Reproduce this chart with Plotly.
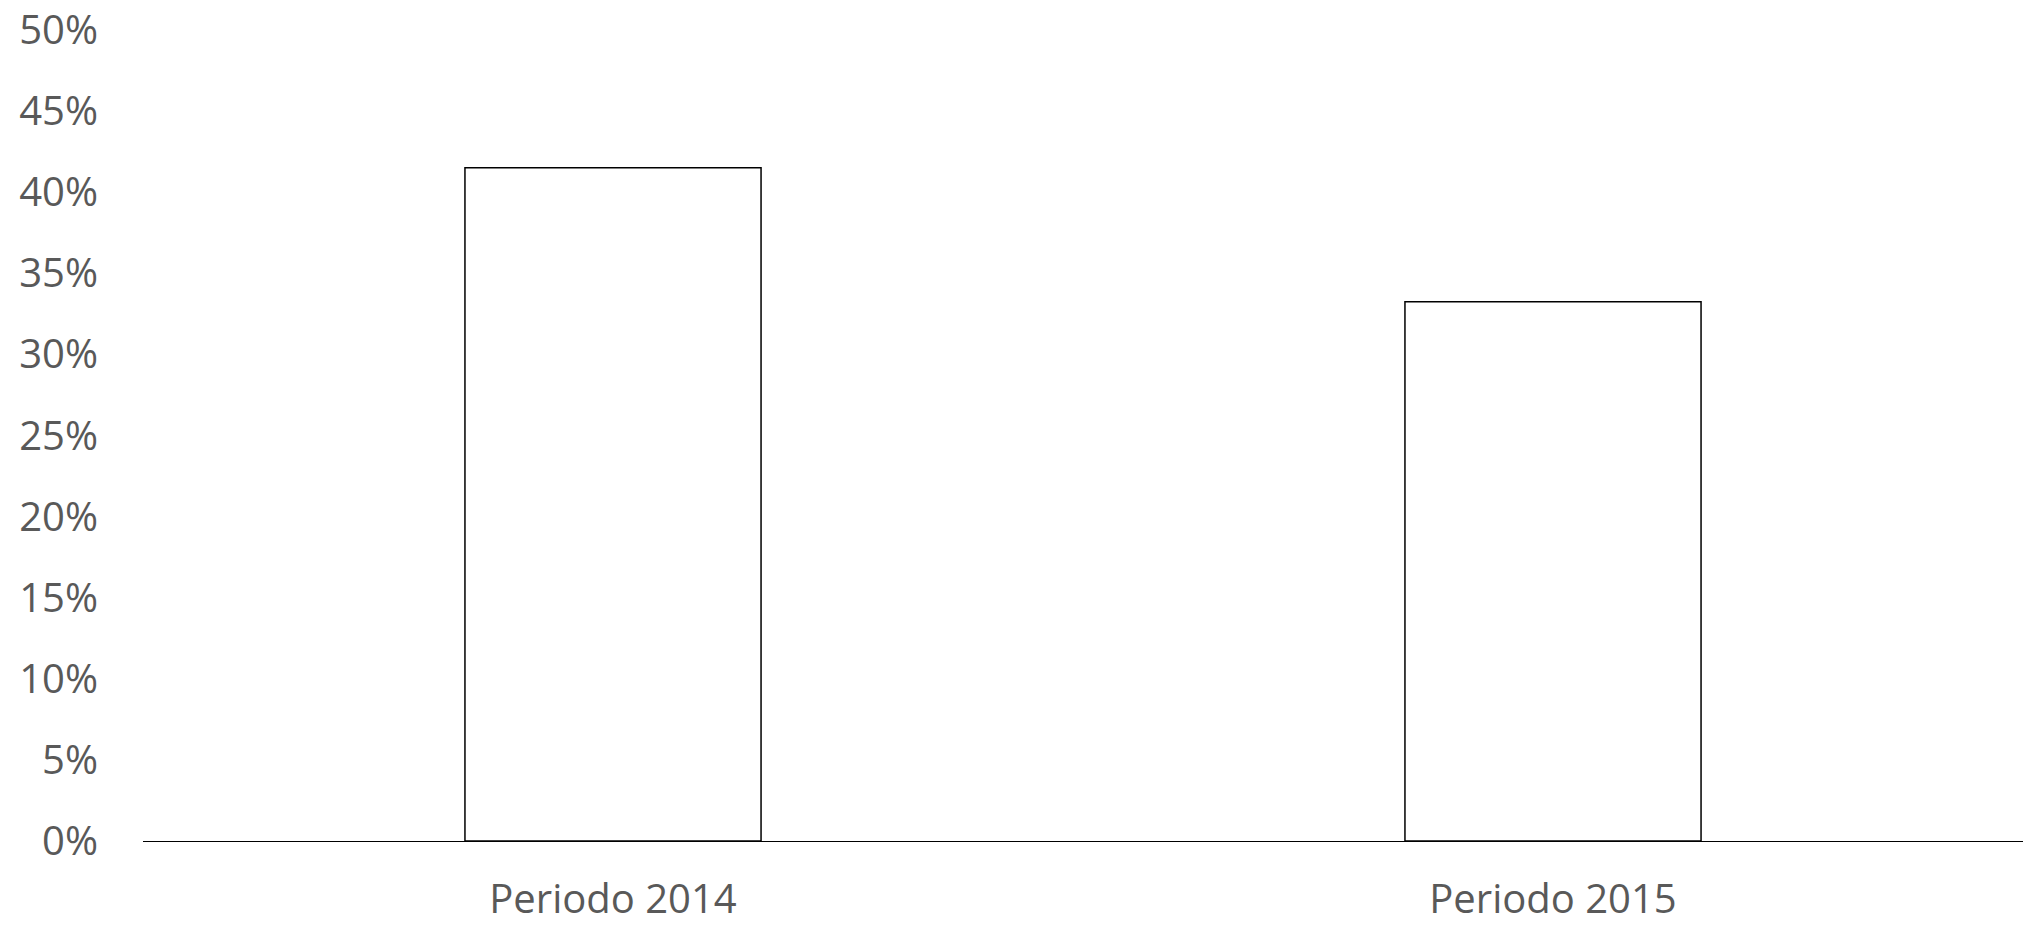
import plotly.graph_objects as go

categories = ["Periodo 2014", "Periodo 2015"]
values = [0.415, 0.3325]
y_ticks = [0, 0.05, 0.10, 0.15, 0.20, 0.25, 0.30, 0.35, 0.40, 0.45, 0.50]
y_tick_labels = ["0%", "5%", "10%", "15%", "20%", "25%", "30%", "35%", "40%", "45%", "50%"]

fig = go.Figure(
    go.Bar(
        x=categories,
        y=values,
        marker=dict(color="white", line=dict(color="black", width=1.5)),
        width=0.315,
    )
)

font = dict(family="Open Sans", size=40, color="#595959")

fig.update_layout(
    width=2023,
    height=926,
    margin=dict(l=143, r=0, t=30, b=85),
    plot_bgcolor="white",
    paper_bgcolor="white",
    showlegend=False,
    font=font,
    xaxis=dict(
        showline=True,
        linecolor="black",
        linewidth=1.3,
        showgrid=False,
        ticks="",
        tickfont=font,
        ticklabelstandoff=23,
        automargin=False,
        ticklabeloverflow="allow",
    ),
    yaxis=dict(
        range=[0, 0.5],
        tickvals=y_ticks,
        ticktext=y_tick_labels,
        showgrid=False,
        zeroline=False,
        showline=False,
        ticks="",
        tickfont=font,
        ticklabelstandoff=44,
        automargin=False,
        ticklabeloverflow="allow",
    ),
)

fig.write_html("out.html")
